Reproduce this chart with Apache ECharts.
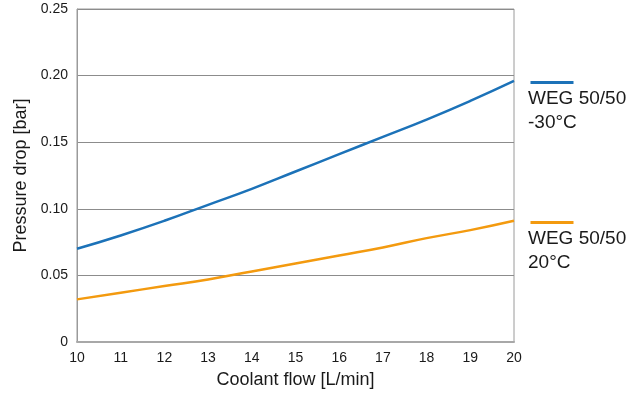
<!DOCTYPE html>
<html>
<head>
<meta charset="utf-8">
<script src="https://cdn.jsdelivr.net/npm/echarts@6/dist/echarts.min.js"></script>
<style>
  html, body {margin: 0; padding: 0; background: #fff;}
  #chart {width: 638px; height: 394px;}
</style>
</head>
<body>
<div id="chart"></div>
<script>
// flow values [L/min]
const flow = [10, 11, 12, 13, 14, 15, 16, 17, 18, 19, 20]
// pressure drop [bar]
const wegCold = [0.070, 0.080, 0.091, 0.103, 0.115, 0.128, 0.141, 0.154, 0.167, 0.181, 0.196]
const wegWarm = [0.032, 0.037, 0.042, 0.047, 0.053, 0.059, 0.065, 0.071, 0.078, 0.084, 0.091]
const legendNames = [['WEG 50/50', '-30°C'], ['WEG 50/50', '20°C']]

const blue = '#1c72b8',
    orange = '#f39a0f',
    font = 'Arial, "Liberation Sans", sans-serif'

const chart = echarts.init(document.getElementById('chart'))

const pairs = function (ys) {
  return flow.map((x, i) => [x, ys[i]])
}

// legend drawn beside the plot, lines on level with series ends
const legendItem = function (color, lines, top) {
  return [
    {type: 'line', left: 528, top: top, shape: {x1: 0, y1: 0, x2: 43, y2: 0},
      style: {stroke: color, lineWidth: 3}},
    {type: 'text', left: 528, top: top + 7,
      style: {text: lines.join('\n'), font: '19px ' + font, fill: '#1a1a1a', lineHeight: 24}},
  ]
}

chart.setOption({
  animation: false,
  textStyle: {fontFamily: font},
  grid: {left: 77, top: 9, width: 437, height: 333, show: true, borderColor: '#9a9a9a', borderWidth: 1},
  xAxis: {
    type: 'value', min: 10, max: 20, interval: 1,
    name: 'Coolant flow [L/min]', nameLocation: 'middle', nameGap: 29,
    nameTextStyle: {fontSize: 18, color: '#1a1a1a'},
    axisLine: {show: true, lineStyle: {color: '#a8a8a8', width: 2}},
    axisTick: {show: false},
    axisLabel: {fontSize: 14, color: '#1a1a1a', margin: 9},
    splitLine: {show: false},
  },
  yAxis: {
    type: 'value', min: 0, max: 0.25, interval: 0.05,
    name: 'Pressure drop [bar]', nameLocation: 'middle', nameGap: 44,
    nameTextStyle: {fontSize: 18, color: '#1a1a1a'},
    axisLine: {show: true, lineStyle: {color: '#9a9a9a'}},
    axisTick: {show: false},
    axisLabel: {fontSize: 14, color: '#1a1a1a', margin: 9,
      formatter: v => v === 0 ? '0' : v.toFixed(2)},
    splitLine: {show: true, lineStyle: {color: '#8c8c8c', width: 1}},
  },
  series: [
    {type: 'line', data: pairs(wegCold), smooth: true, symbol: 'none',
      lineStyle: {color: blue, width: 2.5}},
    {type: 'line', data: pairs(wegWarm), smooth: true, symbol: 'none',
      lineStyle: {color: orange, width: 2.5}},
  ],
  graphic: [
    ...legendItem(blue, legendNames[0], 80),
    ...legendItem(orange, legendNames[1], 220),
  ],
})
</script>
</body>
</html>
